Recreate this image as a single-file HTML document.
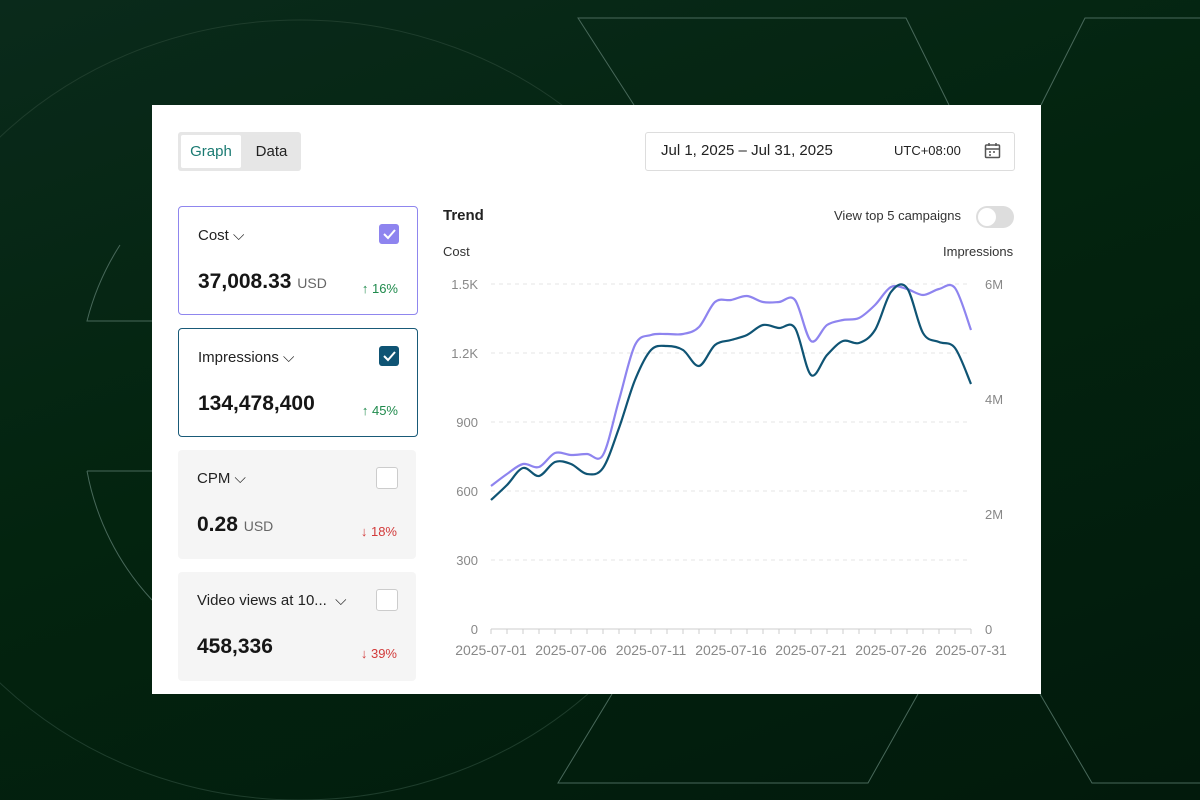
<!DOCTYPE html>
<html><head><meta charset="utf-8"><style>
html,body{margin:0;width:1200px;height:800px;overflow:hidden}
body{background:linear-gradient(160deg,#0a2a1b 0%,#03240f 45%,#021a0c 100%);font-family:"Liberation Sans",sans-serif;position:relative}
.card{position:absolute;left:152px;top:105px;width:889px;height:589px;background:#fff}
.abs{position:absolute}
.tog{left:26px;top:27px;width:123px;height:39px;background:#e6e6e6;border-radius:3px}
.tog .g{position:absolute;left:3px;top:3px;width:60px;height:33px;background:#fff;border-radius:2px;color:#1a7a72;font-size:15px;line-height:33px;text-align:center}
.tog .d{position:absolute;left:66px;top:3px;width:55px;line-height:33px;font-size:15px;text-align:center;color:#222}
.date{left:493px;top:27px;width:368px;height:37px;border:1px solid #ddd;border-radius:3px}
.m{position:absolute;left:26px;width:238px;border-radius:4px}
.m .t{position:absolute;left:19px;top:20px;font-size:15px;color:#222}
.m .v{position:absolute;left:19px;top:63px;font-size:21px;font-weight:bold;color:#161616}
.m .v span{font-size:14px;color:#666;font-weight:normal}
.m .p{position:absolute;right:19px;top:74px;font-size:13px}
.cb{position:absolute;right:18px;top:17px;width:20px;height:20px;border-radius:3px}
.up{color:#1f8a4c}.dn{color:#d23a3a}
</style></head><body>
<svg class="abs" style="left:0;top:0" width="1200" height="800" fill="none" stroke="#48685a" stroke-width="1">
<ellipse cx="300" cy="410" rx="420" ry="390" stroke="#1e3d2c"/>
<path d="M120 245 A258 258 0 0 0 87 321 L152 321 M87 471 L152 471 M87 471 A258 258 0 0 0 152 600"/>
<path d="M634 105 L578 18 L906 18 L949 105 M1041 105 L1085 18 L1200 18 M612 694 L558 783 L868 783 L918 694 M1040 694 L1092 783 L1200 783"/>
</svg>
<div class="card">
<div class="abs tog"><div class="g">Graph</div><div class="d">Data</div></div>
<div class="abs date"><span class="abs" style="left:15px;top:9px;font-size:15px;color:#222">Jul 1, 2025 – Jul 31, 2025</span><span class="abs" style="left:248px;top:10px;font-size:13px;color:#222">UTC+08:00</span>
<svg class="abs" style="left:338px;top:9px" width="17" height="17" fill="none" stroke="#555" stroke-width="1.5"><rect x="1.5" y="3" width="14" height="12.5" rx="1"/><path d="M1.5 7h14M5 1v3M12 1v3M5 10h2M9 10h2M5 13h2"/></svg></div>

<div class="m" style="top:101px;height:107px;border:1px solid #8f86ee"><div class="t">Cost ⌵</div><div class="cb" style="background:#8e84ef"><svg width="20" height="20"><path d="M5 10l4 4 7-8" stroke="#fff" stroke-width="2" fill="none"/></svg></div><div class="v">37,008.33 <span>USD</span></div><div class="p up">↑ 16%</div></div>
<div class="m" style="top:223px;height:107px;border:1px solid #195a78"><div class="t">Impressions ⌵</div><div class="cb" style="background:#0f5474"><svg width="20" height="20"><path d="M5 10l4 4 7-8" stroke="#fff" stroke-width="2" fill="none"/></svg></div><div class="v">134,478,400</div><div class="p up">↑ 45%</div></div>
<div class="m" style="top:345px;height:109px;background:#f5f5f5"><div class="t">CPM ⌵</div><div class="cb" style="background:#fff;border:1px solid #ccc"></div><div class="v">0.28 <span>USD</span></div><div class="p dn">↓ 18%</div></div>
<div class="m" style="top:467px;height:109px;background:#f5f5f5"><div class="t">Video views at 10... &nbsp;⌵</div><div class="cb" style="background:#fff;border:1px solid #ccc"></div><div class="v">458,336</div><div class="p dn">↓ 39%</div></div>

<span class="abs" style="left:291px;top:102px;font-size:15px;color:#222;font-weight:bold">Trend</span>
<span class="abs" style="left:682px;top:103px;font-size:13px;color:#333">View top 5 campaigns</span>
<div class="abs" style="left:824px;top:101px;width:38px;height:22px;border-radius:11px;background:#ddd"><div class="abs" style="left:2px;top:2px;width:18px;height:18px;border-radius:50%;background:#fff"></div></div>
<span class="abs" style="left:291px;top:139px;font-size:13px;color:#333">Cost</span>
<span class="abs" style="left:791px;top:139px;font-size:13px;color:#333">Impressions</span>
</div>
<svg id="ch" class="abs" style="left:0;top:0" width="1200" height="800" font-family="Liberation Sans" font-size="13" fill="#888"></svg>
<script>
var s='';
var lab=['0','300','600','900','1.2K','1.5K'];
for(var i=0;i<6;i++){var y=629-69*i;if(i>0)s+='<line x1="491" x2="971" y1="'+y+'" y2="'+y+'" stroke="#e6e6e6" stroke-dasharray="4 4"/>';s+='<text x="478" y="'+(y+5)+'" text-anchor="end">'+lab[i]+'</text>';}
var rl=['0','2M','4M','6M'];for(i=0;i<4;i++){var y=629-115*i;s+='<text x="985" y="'+(y+5)+'">'+rl[i]+'</text>';}
s+='<line x1="491" x2="971" y1="629" y2="629" stroke="#ccc"/>';
for(i=0;i<31;i++){var x=491+16*i;s+='<line x1="'+x+'" x2="'+x+'" y1="629" y2="634" stroke="#ccc"/>';}
var d=['01','06','11','16','21','26','31'];for(i=0;i<7;i++)s+='<text x="'+(491+80*i)+'" y="655" text-anchor="middle" font-size="14">2025-07-'+d[i]+'</text>';
var a=[486,474,464,467,453,455,454,455,400,345,335,334,334,327,302,300,296,302,302,300,341,325,320,318,305,287,289,295,289,288,330];
var b=[500,485,468,476,462,464,474,468,428,380,350,346,350,366,345,340,335,325,328,328,375,355,341,343,330,292,288,333,342,348,384];
function p(v){var P=v.map(function(y,i){return[491+16*i,y]});var o='M'+P[0];for(var i=0;i<P.length-1;i++){var p0=P[i>0?i-1:0],p1=P[i],p2=P[i+1],p3=P[i+2<P.length?i+2:i+1];o+='C'+(p1[0]+(p2[0]-p0[0])/6)+','+(p1[1]+(p2[1]-p0[1])/6)+' '+(p2[0]-(p3[0]-p1[0])/6)+','+(p2[1]-(p3[1]-p1[1])/6)+' '+p2;}return o;}
s+='<path d="'+p(a)+'" stroke="#8e84ef" stroke-width="2.2" fill="none"/>';
s+='<path d="'+p(b)+'" stroke="#0f5474" stroke-width="2.2" fill="none"/>';
document.getElementById('ch').innerHTML=s;
</script>
</body></html>
